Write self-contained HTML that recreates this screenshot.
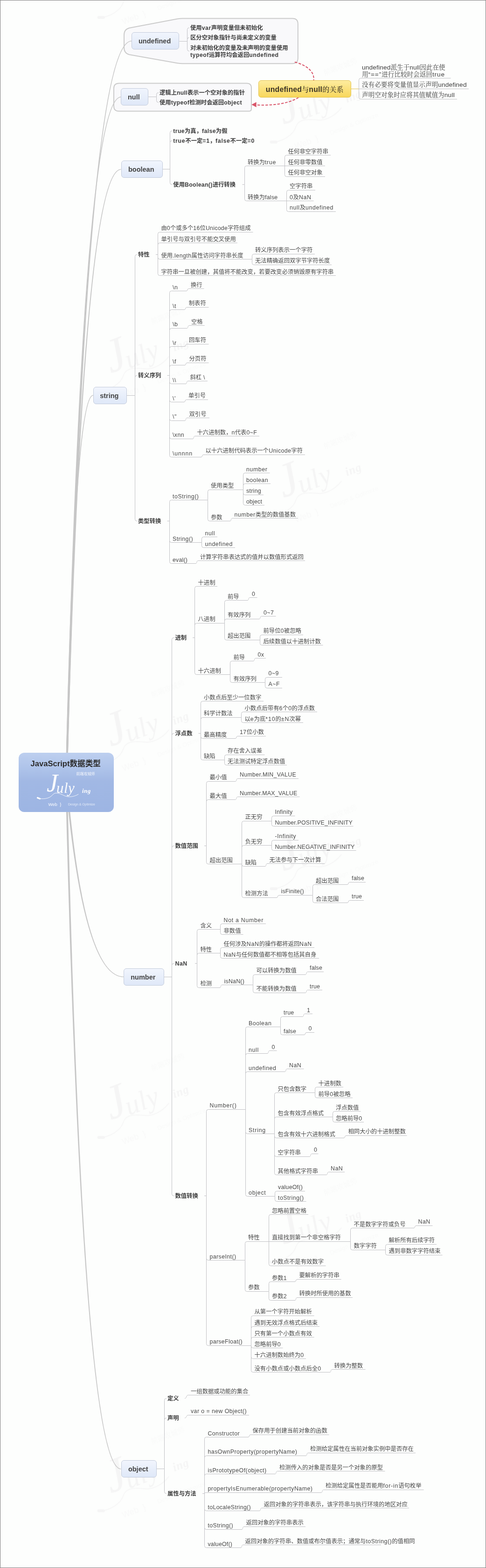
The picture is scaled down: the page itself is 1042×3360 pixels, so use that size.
<!DOCTYPE html><html lang="zh"><head><meta charset="utf-8"><title>JavaScript数据类型</title><style>
html,body{margin:0;padding:0}
body{width:1042px;height:3360px;position:relative;overflow:hidden;background:#fdfefd;font-family:"Liberation Sans","Noto Sans CJK SC",sans-serif;color:#333}
#frame{position:absolute;left:0;top:0;width:1040px;height:3358px;border:1px solid #808080;z-index:9}
svg{position:absolute;left:0;top:0}
#tx{position:absolute;left:0;top:0;width:1042px;height:3360px;will-change:transform}
.t{position:absolute;white-space:pre;line-height:16px;height:16px;font-size:12.33px}
.u{color:#474747}
.b{font-weight:bold;color:#3c3c3c}
.k{font-family:"Liberation Sans","Noto Serif CJK SC",serif;font-size:13.6px;color:#3c3c3c}
.l1{position:absolute;box-sizing:border-box;border:1px solid #c3cbdb;border-radius:6px;background:linear-gradient(#f1f5fd,#dfe8f8);text-align:center;font-weight:bold;font-size:14.5px;color:#444;will-change:transform;padding-right:3px;display:flex;align-items:center;justify-content:center;white-space:nowrap}
.l1 span{position:relative;top:0.6px}
#root{will-change:transform;position:absolute;left:40px;top:1613px;width:203.5px;height:126.5px;border-radius:12px;background:linear-gradient(#bdcfef,#afc4ea 25%,#a1b8e4 48%,#9db5e3);}
#title{position:absolute;left:-1px;width:100%;top:11.8px;text-align:center;font-weight:bold;font-size:16.6px;line-height:24px;color:#2b2b2b;white-space:nowrap}
#yel{position:absolute;left:553.8px;top:172px;width:198.7px;letter-spacing:.2px;height:37px;box-sizing:border-box;border:1px solid #e3c34e;border-radius:6px;background:linear-gradient(#fdec9e,#f8d75c);display:flex;align-items:center;justify-content:center;white-space:nowrap;font-weight:bold;font-size:15.8px;color:#3a3325;will-change:transform}
#yel i{font-style:normal;font-weight:500;font-family:"Liberation Sans","Noto Serif CJK SC",serif;font-size:15px}
.w{position:absolute;color:#fff;white-space:nowrap}
.wm{position:absolute;width:204px;height:127px;transform-origin:83px 45px;transform:rotate(-21deg) scale(1.9);will-change:transform}
.wm .w{color:#f5f5f5}
.wm .q{opacity:.4 !important}
.wm .s{opacity:.5 !important}
.wm svg g{stroke:#f5f5f5}
</style></head><body>
<div class="wm" style="left:539px;top:2539px"><svg width="204" height="127" viewBox="0 0 204 127" style="left:0;top:0"><g fill="none" stroke="#fff" stroke-linecap="round"><path d="M40 97.5 C52 100 66 99 73 90 C78 84 86 86 98 92 C106 96 118 95 128 89" stroke-width="1" opacity=".85"/><path d="M40.5 96.5 L45.5 98.5" stroke-width="3.2"/></g></svg><div class="w q" style="left:123.5px;top:40.5px;font-size:8px;line-height:10px;opacity:.85">前端攻城师</div><div class="w" style="left:60px;top:35px;font:italic 54px/60px 'Liberation Serif',serif;opacity:.95">J</div><div class="w" style="left:81px;top:58px;font:italic 31px/36px 'Liberation Serif',serif;letter-spacing:.5px;opacity:.95">uly</div><div class="w" style="left:136px;top:74px;font:italic bold 13px/16px 'Liberation Serif',serif;letter-spacing:.5px">ing</div><div class="w s" style="left:63.5px;top:104.5px;font-size:9.5px;line-height:12px;opacity:.95">Web &nbsp;}</div><div class="w q" style="left:106px;top:105.5px;font-size:7px;line-height:10px;opacity:.7">Design &amp; Optimize</div></div>
<div class="wm" style="left:539px;top:1739px"><svg width="204" height="127" viewBox="0 0 204 127" style="left:0;top:0"><g fill="none" stroke="#fff" stroke-linecap="round"><path d="M40 97.5 C52 100 66 99 73 90 C78 84 86 86 98 92 C106 96 118 95 128 89" stroke-width="1" opacity=".85"/><path d="M40.5 96.5 L45.5 98.5" stroke-width="3.2"/></g></svg><div class="w q" style="left:123.5px;top:40.5px;font-size:8px;line-height:10px;opacity:.85">前端攻城师</div><div class="w" style="left:60px;top:35px;font:italic 54px/60px 'Liberation Serif',serif;opacity:.95">J</div><div class="w" style="left:81px;top:58px;font:italic 31px/36px 'Liberation Serif',serif;letter-spacing:.5px;opacity:.95">uly</div><div class="w" style="left:136px;top:74px;font:italic bold 13px/16px 'Liberation Serif',serif;letter-spacing:.5px">ing</div><div class="w s" style="left:63.5px;top:104.5px;font-size:9.5px;line-height:12px;opacity:.95">Web &nbsp;}</div><div class="w q" style="left:106px;top:105.5px;font-size:7px;line-height:10px;opacity:.7">Design &amp; Optimize</div></div>
<div class="wm" style="left:539px;top:939px"><svg width="204" height="127" viewBox="0 0 204 127" style="left:0;top:0"><g fill="none" stroke="#fff" stroke-linecap="round"><path d="M40 97.5 C52 100 66 99 73 90 C78 84 86 86 98 92 C106 96 118 95 128 89" stroke-width="1" opacity=".85"/><path d="M40.5 96.5 L45.5 98.5" stroke-width="3.2"/></g></svg><div class="w q" style="left:123.5px;top:40.5px;font-size:8px;line-height:10px;opacity:.85">前端攻城师</div><div class="w" style="left:60px;top:35px;font:italic 54px/60px 'Liberation Serif',serif;opacity:.95">J</div><div class="w" style="left:81px;top:58px;font:italic 31px/36px 'Liberation Serif',serif;letter-spacing:.5px;opacity:.95">uly</div><div class="w" style="left:136px;top:74px;font:italic bold 13px/16px 'Liberation Serif',serif;letter-spacing:.5px">ing</div><div class="w s" style="left:63.5px;top:104.5px;font-size:9.5px;line-height:12px;opacity:.95">Web &nbsp;}</div><div class="w q" style="left:106px;top:105.5px;font-size:7px;line-height:10px;opacity:.7">Design &amp; Optimize</div></div>
<div class="wm" style="left:539px;top:139px"><svg width="204" height="127" viewBox="0 0 204 127" style="left:0;top:0"><g fill="none" stroke="#fff" stroke-linecap="round"><path d="M40 97.5 C52 100 66 99 73 90 C78 84 86 86 98 92 C106 96 118 95 128 89" stroke-width="1" opacity=".85"/><path d="M40.5 96.5 L45.5 98.5" stroke-width="3.2"/></g></svg><div class="w q" style="left:123.5px;top:40.5px;font-size:8px;line-height:10px;opacity:.85">前端攻城师</div><div class="w" style="left:60px;top:35px;font:italic 54px/60px 'Liberation Serif',serif;opacity:.95">J</div><div class="w" style="left:81px;top:58px;font:italic 31px/36px 'Liberation Serif',serif;letter-spacing:.5px;opacity:.95">uly</div><div class="w" style="left:136px;top:74px;font:italic bold 13px/16px 'Liberation Serif',serif;letter-spacing:.5px">ing</div><div class="w s" style="left:63.5px;top:104.5px;font-size:9.5px;line-height:12px;opacity:.95">Web &nbsp;}</div><div class="w q" style="left:106px;top:105.5px;font-size:7px;line-height:10px;opacity:.7">Design &amp; Optimize</div></div>
<div class="wm" style="left:169px;top:3072px"><svg width="204" height="127" viewBox="0 0 204 127" style="left:0;top:0"><g fill="none" stroke="#fff" stroke-linecap="round"><path d="M40 97.5 C52 100 66 99 73 90 C78 84 86 86 98 92 C106 96 118 95 128 89" stroke-width="1" opacity=".85"/><path d="M40.5 96.5 L45.5 98.5" stroke-width="3.2"/></g></svg><div class="w q" style="left:123.5px;top:40.5px;font-size:8px;line-height:10px;opacity:.85">前端攻城师</div><div class="w" style="left:60px;top:35px;font:italic 54px/60px 'Liberation Serif',serif;opacity:.95">J</div><div class="w" style="left:81px;top:58px;font:italic 31px/36px 'Liberation Serif',serif;letter-spacing:.5px;opacity:.95">uly</div><div class="w" style="left:136px;top:74px;font:italic bold 13px/16px 'Liberation Serif',serif;letter-spacing:.5px">ing</div><div class="w s" style="left:63.5px;top:104.5px;font-size:9.5px;line-height:12px;opacity:.95">Web &nbsp;}</div><div class="w q" style="left:106px;top:105.5px;font-size:7px;line-height:10px;opacity:.7">Design &amp; Optimize</div></div>
<div class="wm" style="left:169px;top:2272px"><svg width="204" height="127" viewBox="0 0 204 127" style="left:0;top:0"><g fill="none" stroke="#fff" stroke-linecap="round"><path d="M40 97.5 C52 100 66 99 73 90 C78 84 86 86 98 92 C106 96 118 95 128 89" stroke-width="1" opacity=".85"/><path d="M40.5 96.5 L45.5 98.5" stroke-width="3.2"/></g></svg><div class="w q" style="left:123.5px;top:40.5px;font-size:8px;line-height:10px;opacity:.85">前端攻城师</div><div class="w" style="left:60px;top:35px;font:italic 54px/60px 'Liberation Serif',serif;opacity:.95">J</div><div class="w" style="left:81px;top:58px;font:italic 31px/36px 'Liberation Serif',serif;letter-spacing:.5px;opacity:.95">uly</div><div class="w" style="left:136px;top:74px;font:italic bold 13px/16px 'Liberation Serif',serif;letter-spacing:.5px">ing</div><div class="w s" style="left:63.5px;top:104.5px;font-size:9.5px;line-height:12px;opacity:.95">Web &nbsp;}</div><div class="w q" style="left:106px;top:105.5px;font-size:7px;line-height:10px;opacity:.7">Design &amp; Optimize</div></div>
<div class="wm" style="left:169px;top:1472px"><svg width="204" height="127" viewBox="0 0 204 127" style="left:0;top:0"><g fill="none" stroke="#fff" stroke-linecap="round"><path d="M40 97.5 C52 100 66 99 73 90 C78 84 86 86 98 92 C106 96 118 95 128 89" stroke-width="1" opacity=".85"/><path d="M40.5 96.5 L45.5 98.5" stroke-width="3.2"/></g></svg><div class="w q" style="left:123.5px;top:40.5px;font-size:8px;line-height:10px;opacity:.85">前端攻城师</div><div class="w" style="left:60px;top:35px;font:italic 54px/60px 'Liberation Serif',serif;opacity:.95">J</div><div class="w" style="left:81px;top:58px;font:italic 31px/36px 'Liberation Serif',serif;letter-spacing:.5px;opacity:.95">uly</div><div class="w" style="left:136px;top:74px;font:italic bold 13px/16px 'Liberation Serif',serif;letter-spacing:.5px">ing</div><div class="w s" style="left:63.5px;top:104.5px;font-size:9.5px;line-height:12px;opacity:.95">Web &nbsp;}</div><div class="w q" style="left:106px;top:105.5px;font-size:7px;line-height:10px;opacity:.7">Design &amp; Optimize</div></div>
<div class="wm" style="left:169px;top:672px"><svg width="204" height="127" viewBox="0 0 204 127" style="left:0;top:0"><g fill="none" stroke="#fff" stroke-linecap="round"><path d="M40 97.5 C52 100 66 99 73 90 C78 84 86 86 98 92 C106 96 118 95 128 89" stroke-width="1" opacity=".85"/><path d="M40.5 96.5 L45.5 98.5" stroke-width="3.2"/></g></svg><div class="w q" style="left:123.5px;top:40.5px;font-size:8px;line-height:10px;opacity:.85">前端攻城师</div><div class="w" style="left:60px;top:35px;font:italic 54px/60px 'Liberation Serif',serif;opacity:.95">J</div><div class="w" style="left:81px;top:58px;font:italic 31px/36px 'Liberation Serif',serif;letter-spacing:.5px;opacity:.95">uly</div><div class="w" style="left:136px;top:74px;font:italic bold 13px/16px 'Liberation Serif',serif;letter-spacing:.5px">ing</div><div class="w s" style="left:63.5px;top:104.5px;font-size:9.5px;line-height:12px;opacity:.95">Web &nbsp;}</div><div class="w q" style="left:106px;top:105.5px;font-size:7px;line-height:10px;opacity:.7">Design &amp; Optimize</div></div>
<div class="wm" style="left:169px;top:-128px"><svg width="204" height="127" viewBox="0 0 204 127" style="left:0;top:0"><g fill="none" stroke="#fff" stroke-linecap="round"><path d="M40 97.5 C52 100 66 99 73 90 C78 84 86 86 98 92 C106 96 118 95 128 89" stroke-width="1" opacity=".85"/><path d="M40.5 96.5 L45.5 98.5" stroke-width="3.2"/></g></svg><div class="w q" style="left:123.5px;top:40.5px;font-size:8px;line-height:10px;opacity:.85">前端攻城师</div><div class="w" style="left:60px;top:35px;font:italic 54px/60px 'Liberation Serif',serif;opacity:.95">J</div><div class="w" style="left:81px;top:58px;font:italic 31px/36px 'Liberation Serif',serif;letter-spacing:.5px;opacity:.95">uly</div><div class="w" style="left:136px;top:74px;font:italic bold 13px/16px 'Liberation Serif',serif;letter-spacing:.5px">ing</div><div class="w s" style="left:63.5px;top:104.5px;font-size:9.5px;line-height:12px;opacity:.95">Web &nbsp;}</div><div class="w q" style="left:106px;top:105.5px;font-size:7px;line-height:10px;opacity:.7">Design &amp; Optimize</div></div>
<svg width="1042" height="3360" viewBox="0 0 1042 3360">
<g fill="#f9f9fb" stroke="#cbcbcb" stroke-width="2"><path d="M266 75 Q266 63 277 60 L380 40.6 Q386 39.6 392 39.6 L626.8 39.6 Q638.8 39.6 638.8 51.6 L638.8 124.2 Q638.8 136.2 626.8 136.2 L392 136.2 Q386 136.2 380 135.2 L277 117 Q266 114 266 102 Z"/><path d="M244 189.5 Q244 178.5 255 178.5 L529 178.5 Q539 178.5 539 188.5 L539 233 Q539 238.2 534 238.2 L255 238.2 Q244 238.2 244 227.2 Z"/></g>
<g fill="#c6c6c6" stroke="none">
<path d="M144.3 1676.1 L145.0 1649.7 L145.7 1623.6 L146.4 1597.6 L147.1 1572.0 L147.8 1546.5 L148.5 1521.2 L149.2 1496.2 L150.0 1471.4 L150.7 1446.8 L151.5 1422.4 L152.2 1398.3 L153.0 1374.3 L153.8 1350.6 L154.5 1327.1 L155.3 1303.9 L156.1 1280.8 L156.9 1258.0 L157.8 1235.4 L158.6 1213.0 L159.4 1190.8 L160.2 1168.9 L161.1 1147.2 L161.9 1125.7 L162.8 1104.4 L163.7 1083.3 L164.6 1062.5 L165.4 1041.9 L166.3 1021.5 L167.2 1001.3 L168.2 981.3 L169.1 961.6 L170.0 942.1 L170.9 922.8 L171.9 903.7 L172.8 884.8 L173.8 866.2 L174.8 847.8 L175.7 829.6 L176.7 811.6 L177.7 793.8 L178.7 776.3 L179.7 759.0 L180.7 741.9 L181.7 725.0 L182.8 708.4 L183.8 692.0 L184.8 675.7 L185.9 659.8 L187.0 644.0 L188.0 628.4 L189.1 613.1 L190.2 598.0 L191.3 583.1 L192.4 568.5 L193.5 554.0 L194.6 539.8 L195.7 525.8 L196.9 512.0 L198.0 498.4 L199.2 485.1 L200.3 472.0 L201.5 459.1 L202.7 446.4 L203.8 433.9 L205.0 421.7 L206.2 409.7 L207.4 397.9 L208.6 386.3 L209.9 374.9 L211.1 363.8 L212.3 352.9 L213.6 342.2 L214.8 331.7 L216.1 321.5 L217.3 311.4 L218.6 301.6 L219.9 292.0 L221.2 282.6 L222.5 273.5 L223.8 264.6 L225.1 255.9 L226.4 247.4 L227.8 239.1 L229.1 231.0 L230.5 223.2 L231.8 215.6 L233.2 208.2 L234.6 201.1 L235.9 194.1 L237.3 187.4 L238.7 180.9 L240.1 174.6 L241.5 168.6 L242.9 162.7 L244.4 157.1 L245.8 151.7 L247.2 146.5 L248.7 141.6 L250.1 136.8 L251.6 132.3 L253.1 128.0 L254.6 124.0 L256.0 120.1 L257.5 116.5 L259.0 113.1 L260.5 109.9 L262.1 107.0 L263.6 104.2 L265.1 101.7 L266.6 99.4 L268.2 97.3 L269.7 95.5 L271.2 93.9 L272.8 92.5 L274.3 91.3 L275.9 90.3 L277.4 89.6 L278.9 89.1 L280.5 88.8 L282.0 88.7 L282.0 87.3 L280.3 87.5 L278.6 87.8 L276.9 88.4 L275.2 89.2 L273.6 90.2 L271.9 91.5 L270.3 92.9 L268.7 94.6 L267.1 96.5 L265.6 98.6 L264.0 101.0 L262.4 103.5 L260.9 106.3 L259.3 109.3 L257.8 112.5 L256.3 116.0 L254.8 119.6 L253.3 123.5 L251.8 127.6 L250.3 131.9 L248.8 136.4 L247.4 141.2 L245.9 146.1 L244.4 151.3 L243.0 156.7 L241.6 162.4 L240.1 168.2 L238.7 174.3 L237.3 180.6 L235.9 187.1 L234.5 193.8 L233.1 200.8 L231.7 208.0 L230.3 215.3 L229.0 223.0 L227.6 230.8 L226.2 238.8 L224.9 247.1 L223.6 255.6 L222.2 264.3 L220.9 273.3 L219.6 282.4 L218.3 291.8 L217.0 301.4 L215.7 311.2 L214.4 321.2 L213.1 331.5 L211.8 342.0 L210.6 352.7 L209.3 363.6 L208.1 374.7 L206.8 386.1 L205.6 397.7 L204.4 409.5 L203.2 421.5 L202.0 433.7 L200.8 446.2 L199.6 458.9 L198.4 471.8 L197.2 484.9 L196.0 498.3 L194.9 511.8 L193.7 525.6 L192.6 539.6 L191.4 553.8 L190.3 568.3 L189.2 583.0 L188.0 597.8 L186.9 613.0 L185.8 628.3 L184.7 643.8 L183.6 659.6 L182.6 675.6 L181.5 691.8 L180.4 708.2 L179.4 724.9 L178.3 741.8 L177.3 758.9 L176.2 776.2 L175.2 793.7 L174.2 811.5 L173.2 829.4 L172.2 847.6 L171.2 866.1 L170.2 884.7 L169.2 903.5 L168.2 922.6 L167.3 941.9 L166.3 961.4 L165.3 981.2 L164.4 1001.1 L163.5 1021.3 L162.5 1041.7 L161.6 1062.4 L160.7 1083.2 L159.8 1104.3 L158.9 1125.5 L158.0 1147.0 L157.1 1168.8 L156.2 1190.7 L155.4 1212.9 L154.5 1235.3 L153.7 1257.9 L152.8 1280.7 L152.0 1303.8 L151.1 1327.0 L150.3 1350.5 L149.5 1374.2 L148.7 1398.2 L147.9 1422.3 L147.1 1446.7 L146.3 1471.3 L145.5 1496.1 L144.8 1521.1 L144.0 1546.4 L143.2 1571.8 L142.5 1597.5 L141.8 1623.5 L141.0 1649.6 L140.3 1675.9Z"/>
<path d="M144.3 1676.0 L144.9 1651.7 L145.4 1627.5 L146.0 1603.6 L146.6 1579.8 L147.2 1556.3 L147.8 1532.9 L148.4 1509.8 L149.0 1486.8 L149.6 1464.1 L150.3 1441.6 L150.9 1419.2 L151.5 1397.1 L152.2 1375.2 L152.8 1353.5 L153.5 1332.0 L154.2 1310.6 L154.8 1289.5 L155.5 1268.6 L156.2 1247.9 L156.9 1227.5 L157.6 1207.2 L158.3 1187.1 L159.0 1167.2 L159.7 1147.5 L160.5 1128.1 L161.2 1108.8 L161.9 1089.7 L162.7 1070.9 L163.4 1052.2 L164.2 1033.7 L165.0 1015.5 L165.7 997.4 L166.5 979.6 L167.3 962.0 L168.1 944.5 L168.9 927.3 L169.7 910.3 L170.5 893.5 L171.3 876.8 L172.2 860.4 L173.0 844.2 L173.8 828.2 L174.7 812.4 L175.5 796.8 L176.4 781.4 L177.3 766.2 L178.2 751.2 L179.0 736.5 L179.9 721.9 L180.8 707.5 L181.7 693.3 L182.6 679.4 L183.5 665.6 L184.5 652.0 L185.4 638.7 L186.3 625.5 L187.3 612.6 L188.2 599.8 L189.2 587.3 L190.1 575.0 L191.1 562.8 L192.1 550.9 L193.0 539.2 L194.0 527.7 L195.0 516.3 L196.0 505.2 L197.0 494.3 L198.1 483.6 L199.1 473.1 L200.1 462.8 L201.1 452.7 L202.2 442.8 L203.2 433.2 L204.3 423.7 L205.3 414.4 L206.4 405.3 L207.5 396.5 L208.6 387.8 L209.7 379.3 L210.8 371.1 L211.9 363.0 L213.0 355.2 L214.1 347.5 L215.2 340.1 L216.3 332.9 L217.5 325.8 L218.6 319.0 L219.7 312.4 L220.9 306.0 L222.1 299.7 L223.2 293.7 L224.4 287.9 L225.6 282.3 L226.8 276.9 L228.0 271.7 L229.2 266.7 L230.4 262.0 L231.6 257.4 L232.8 253.0 L234.0 248.8 L235.3 244.9 L236.5 241.1 L237.8 237.5 L239.0 234.2 L240.3 231.0 L241.5 228.1 L242.8 225.4 L244.1 222.8 L245.3 220.5 L246.6 218.4 L247.9 216.5 L249.2 214.8 L250.5 213.3 L251.8 212.0 L253.0 210.9 L254.3 210.0 L255.6 209.4 L256.9 208.9 L258.1 208.6 L259.4 208.5 L259.4 207.2 L257.9 207.3 L256.5 207.6 L255.1 208.2 L253.6 208.9 L252.3 209.9 L250.9 211.0 L249.5 212.4 L248.2 214.0 L246.8 215.7 L245.5 217.7 L244.2 219.9 L242.9 222.2 L241.6 224.8 L240.3 227.6 L239.0 230.5 L237.7 233.7 L236.5 237.1 L235.2 240.7 L234.0 244.4 L232.7 248.4 L231.5 252.6 L230.2 257.0 L229.0 261.6 L227.8 266.4 L226.6 271.4 L225.4 276.6 L224.2 282.0 L223.0 287.6 L221.8 293.5 L220.6 299.5 L219.4 305.7 L218.3 312.1 L217.1 318.8 L216.0 325.6 L214.8 332.6 L213.7 339.9 L212.5 347.3 L211.4 355.0 L210.3 362.8 L209.2 370.9 L208.1 379.1 L207.0 387.6 L205.9 396.3 L204.8 405.1 L203.7 414.2 L202.6 423.5 L201.5 433.0 L200.5 442.7 L199.4 452.6 L198.3 462.6 L197.3 472.9 L196.3 483.4 L195.2 494.2 L194.2 505.1 L193.2 516.2 L192.2 527.5 L191.1 539.0 L190.1 550.7 L189.1 562.7 L188.2 574.8 L187.2 587.1 L186.2 599.7 L185.2 612.4 L184.3 625.4 L183.3 638.5 L182.3 651.9 L181.4 665.5 L180.5 679.2 L179.5 693.2 L178.6 707.4 L177.7 721.7 L176.8 736.3 L175.9 751.1 L175.0 766.1 L174.1 781.3 L173.2 796.7 L172.3 812.3 L171.4 828.1 L170.5 844.1 L169.7 860.3 L168.8 876.7 L168.0 893.3 L167.1 910.2 L166.3 927.2 L165.5 944.4 L164.6 961.8 L163.8 979.5 L163.0 997.3 L162.2 1015.4 L161.4 1033.6 L160.6 1052.1 L159.8 1070.7 L159.0 1089.6 L158.2 1108.7 L157.5 1127.9 L156.7 1147.4 L156.0 1167.1 L155.2 1187.0 L154.5 1207.1 L153.7 1227.3 L153.0 1247.8 L152.3 1268.5 L151.5 1289.4 L150.8 1310.5 L150.1 1331.8 L149.4 1353.4 L148.7 1375.1 L148.1 1397.0 L147.4 1419.1 L146.7 1441.5 L146.0 1464.0 L145.4 1486.7 L144.7 1509.7 L144.1 1532.8 L143.4 1556.2 L142.8 1579.7 L142.2 1603.5 L141.5 1627.4 L140.9 1651.6 L140.3 1676.0Z"/>
<path d="M144.3 1676.1 L144.9 1654.3 L145.4 1632.7 L146.0 1611.2 L146.6 1590.0 L147.2 1568.9 L147.8 1548.0 L148.4 1527.3 L149.0 1506.8 L149.6 1486.5 L150.3 1466.3 L150.9 1446.4 L151.5 1426.6 L152.2 1407.0 L152.8 1387.6 L153.5 1368.3 L154.2 1349.3 L154.8 1330.4 L155.5 1311.7 L156.2 1293.2 L156.9 1274.9 L157.6 1256.7 L158.3 1238.7 L159.0 1221.0 L159.8 1203.4 L160.5 1186.0 L161.2 1168.7 L162.0 1151.7 L162.7 1134.8 L163.5 1118.1 L164.2 1101.6 L165.0 1085.3 L165.8 1069.1 L166.5 1053.2 L167.3 1037.4 L168.1 1021.8 L168.9 1006.4 L169.7 991.2 L170.5 976.1 L171.4 961.3 L172.2 946.6 L173.0 932.1 L173.9 917.8 L174.7 903.7 L175.6 889.7 L176.4 875.9 L177.3 862.3 L178.2 848.9 L179.1 835.7 L180.0 822.7 L180.8 809.8 L181.7 797.2 L182.7 784.7 L183.6 772.4 L184.5 760.2 L185.4 748.3 L186.4 736.5 L187.3 724.9 L188.2 713.5 L189.2 702.3 L190.2 691.3 L191.1 680.5 L192.1 669.8 L193.1 659.3 L194.1 649.0 L195.1 638.9 L196.1 628.9 L197.1 619.2 L198.1 609.6 L199.1 600.2 L200.2 591.0 L201.2 582.0 L202.2 573.1 L203.3 564.5 L204.3 556.0 L205.4 547.7 L206.5 539.6 L207.5 531.7 L208.6 523.9 L209.7 516.3 L210.8 509.0 L211.9 501.8 L213.0 494.7 L214.1 487.9 L215.3 481.3 L216.4 474.8 L217.5 468.5 L218.7 462.4 L219.8 456.5 L221.0 450.7 L222.1 445.2 L223.3 439.8 L224.5 434.6 L225.7 429.6 L226.8 424.8 L228.0 420.1 L229.2 415.7 L230.4 411.4 L231.7 407.3 L232.9 403.4 L234.1 399.6 L235.3 396.1 L236.6 392.7 L237.8 389.6 L239.1 386.6 L240.3 383.7 L241.6 381.1 L242.9 378.7 L244.1 376.4 L245.4 374.3 L246.7 372.5 L248.0 370.7 L249.3 369.2 L250.5 367.9 L251.8 366.7 L253.1 365.8 L254.4 365.0 L255.7 364.4 L256.9 363.9 L258.2 363.7 L259.5 363.6 L259.5 362.3 L258.0 362.4 L256.6 362.7 L255.2 363.2 L253.8 363.8 L252.4 364.7 L251.0 365.7 L249.6 366.9 L248.3 368.3 L246.9 369.9 L245.6 371.7 L244.3 373.6 L243.0 375.7 L241.7 378.0 L240.4 380.5 L239.1 383.2 L237.8 386.0 L236.6 389.0 L235.3 392.3 L234.1 395.6 L232.8 399.2 L231.6 403.0 L230.3 406.9 L229.1 411.0 L227.9 415.3 L226.7 419.8 L225.5 424.4 L224.3 429.3 L223.1 434.3 L221.9 439.5 L220.7 444.9 L219.5 450.4 L218.3 456.2 L217.2 462.1 L216.0 468.2 L214.9 474.5 L213.7 481.0 L212.6 487.7 L211.5 494.5 L210.3 501.5 L209.2 508.7 L208.1 516.1 L207.0 523.7 L205.9 531.4 L204.8 539.4 L203.7 547.5 L202.6 555.8 L201.6 564.3 L200.5 572.9 L199.4 581.8 L198.4 590.8 L197.3 600.0 L196.3 609.4 L195.3 619.0 L194.2 628.7 L193.2 638.7 L192.2 648.8 L191.2 659.1 L190.2 669.6 L189.2 680.3 L188.2 691.1 L187.2 702.2 L186.2 713.4 L185.3 724.8 L184.3 736.4 L183.3 748.1 L182.4 760.1 L181.4 772.2 L180.5 784.5 L179.6 797.0 L178.6 809.7 L177.7 822.5 L176.8 835.6 L175.9 848.8 L175.0 862.2 L174.1 875.8 L173.2 889.6 L172.3 903.5 L171.4 917.6 L170.6 932.0 L169.7 946.5 L168.8 961.1 L168.0 976.0 L167.1 991.0 L166.3 1006.3 L165.5 1021.7 L164.6 1037.3 L163.8 1053.1 L163.0 1069.0 L162.2 1085.2 L161.4 1101.5 L160.6 1118.0 L159.8 1134.7 L159.0 1151.5 L158.3 1168.6 L157.5 1185.8 L156.7 1203.2 L156.0 1220.8 L155.2 1238.6 L154.5 1256.6 L153.7 1274.7 L153.0 1293.1 L152.3 1311.6 L151.6 1330.3 L150.8 1349.1 L150.1 1368.2 L149.4 1387.4 L148.7 1406.9 L148.1 1426.5 L147.4 1446.2 L146.7 1466.2 L146.0 1486.4 L145.4 1506.7 L144.7 1527.2 L144.1 1547.9 L143.4 1568.8 L142.8 1589.9 L142.2 1611.1 L141.5 1632.5 L140.9 1654.2 L140.3 1675.9Z"/>
<path d="M144.3 1676.0 L144.6 1662.3 L144.8 1648.6 L145.1 1635.1 L145.4 1621.7 L145.7 1608.4 L145.9 1595.2 L146.2 1582.2 L146.5 1569.2 L146.8 1556.4 L147.1 1543.7 L147.4 1531.1 L147.7 1518.6 L148.0 1506.2 L148.3 1493.9 L148.6 1481.8 L149.0 1469.8 L149.3 1457.9 L149.6 1446.1 L149.9 1434.4 L150.3 1422.8 L150.6 1411.4 L150.9 1400.0 L151.3 1388.8 L151.6 1377.7 L152.0 1366.7 L152.3 1355.8 L152.7 1345.0 L153.0 1334.4 L153.4 1323.9 L153.8 1313.5 L154.1 1303.1 L154.5 1293.0 L154.9 1282.9 L155.2 1272.9 L155.6 1263.1 L156.0 1253.4 L156.4 1243.8 L156.8 1234.3 L157.2 1224.9 L157.6 1215.6 L158.0 1206.5 L158.4 1197.4 L158.8 1188.5 L159.2 1179.7 L159.6 1171.0 L160.0 1162.4 L160.5 1154.0 L160.9 1145.6 L161.3 1137.4 L161.7 1129.3 L162.2 1121.3 L162.6 1113.4 L163.1 1105.6 L163.5 1098.0 L164.0 1090.4 L164.4 1083.0 L164.9 1075.7 L165.3 1068.5 L165.8 1061.4 L166.2 1054.5 L166.7 1047.6 L167.2 1040.9 L167.7 1034.3 L168.1 1027.8 L168.6 1021.4 L169.1 1015.1 L169.6 1008.9 L170.1 1002.9 L170.6 997.0 L171.1 991.2 L171.6 985.5 L172.1 979.9 L172.6 974.4 L173.1 969.1 L173.6 963.8 L174.1 958.7 L174.7 953.7 L175.2 948.8 L175.7 944.0 L176.3 939.4 L176.8 934.8 L177.3 930.4 L177.9 926.1 L178.4 921.9 L179.0 917.8 L179.5 913.8 L180.1 910.0 L180.6 906.3 L181.2 902.6 L181.8 899.1 L182.3 895.7 L182.9 892.5 L183.5 889.3 L184.1 886.2 L184.6 883.3 L185.2 880.5 L185.8 877.8 L186.4 875.2 L187.0 872.7 L187.6 870.4 L188.2 868.2 L188.8 866.0 L189.4 864.0 L190.0 862.1 L190.6 860.4 L191.3 858.7 L191.9 857.2 L192.5 855.8 L193.1 854.5 L193.7 853.3 L194.4 852.2 L195.0 851.3 L195.6 850.4 L196.2 849.7 L196.8 849.1 L197.4 848.7 L198.0 848.3 L198.6 848.0 L199.1 847.9 L199.7 847.9 L199.7 846.6 L198.9 846.6 L198.2 846.8 L197.4 847.1 L196.7 847.6 L196.0 848.1 L195.3 848.8 L194.6 849.6 L193.9 850.5 L193.2 851.5 L192.6 852.6 L191.9 853.9 L191.3 855.2 L190.6 856.7 L190.0 858.2 L189.4 859.9 L188.8 861.7 L188.1 863.6 L187.5 865.7 L186.9 867.8 L186.3 870.0 L185.7 872.4 L185.1 874.9 L184.5 877.5 L183.9 880.2 L183.3 883.0 L182.7 886.0 L182.1 889.0 L181.5 892.2 L180.9 895.5 L180.3 898.9 L179.7 902.4 L179.2 906.0 L178.6 909.8 L178.0 913.6 L177.5 917.6 L176.9 921.7 L176.3 925.9 L175.8 930.2 L175.2 934.6 L174.7 939.2 L174.1 943.9 L173.6 948.6 L173.0 953.5 L172.5 958.5 L172.0 963.7 L171.4 968.9 L170.9 974.3 L170.4 979.7 L169.8 985.3 L169.3 991.0 L168.8 996.8 L168.3 1002.8 L167.8 1008.8 L167.3 1015.0 L166.8 1021.2 L166.3 1027.6 L165.8 1034.1 L165.3 1040.7 L164.8 1047.5 L164.3 1054.3 L163.8 1061.3 L163.3 1068.4 L162.8 1075.6 L162.3 1082.9 L161.9 1090.3 L161.4 1097.8 L160.9 1105.5 L160.5 1113.3 L160.0 1121.2 L159.5 1129.2 L159.1 1137.3 L158.6 1145.5 L158.2 1153.9 L157.7 1162.3 L157.3 1170.9 L156.8 1179.6 L156.4 1188.4 L155.9 1197.3 L155.5 1206.3 L155.1 1215.5 L154.7 1224.8 L154.2 1234.1 L153.8 1243.6 L153.4 1253.3 L153.0 1263.0 L152.6 1272.8 L152.1 1282.8 L151.7 1292.9 L151.3 1303.0 L150.9 1313.3 L150.5 1323.8 L150.1 1334.3 L149.8 1344.9 L149.4 1355.7 L149.0 1366.6 L148.6 1377.6 L148.2 1388.7 L147.8 1399.9 L147.5 1411.3 L147.1 1422.7 L146.7 1434.3 L146.4 1446.0 L146.0 1457.8 L145.6 1469.7 L145.3 1481.7 L144.9 1493.8 L144.6 1506.1 L144.2 1518.5 L143.9 1531.0 L143.5 1543.6 L143.2 1556.3 L142.9 1569.1 L142.5 1582.1 L142.2 1595.1 L141.9 1608.3 L141.6 1621.6 L141.2 1635.0 L140.9 1648.6 L140.6 1662.2 L140.3 1676.0Z"/>
<path d="M140.3 1676.2 L140.9 1683.1 L141.6 1690.0 L142.3 1696.8 L142.9 1703.5 L143.6 1710.2 L144.3 1716.9 L144.9 1723.4 L145.6 1730.0 L146.3 1736.4 L147.0 1742.8 L147.7 1749.2 L148.4 1755.5 L149.2 1761.7 L149.9 1767.9 L150.6 1774.0 L151.4 1780.0 L152.1 1786.0 L152.9 1792.0 L153.6 1797.9 L154.4 1803.7 L155.2 1809.4 L155.9 1815.2 L156.7 1820.8 L157.5 1826.4 L158.3 1831.9 L159.1 1837.4 L160.0 1842.8 L160.8 1848.2 L161.6 1853.5 L162.4 1858.7 L163.3 1863.9 L164.1 1869.1 L165.0 1874.1 L165.8 1879.1 L166.7 1884.1 L167.6 1889.0 L168.5 1893.8 L169.3 1898.6 L170.2 1903.3 L171.1 1908.0 L172.0 1912.6 L173.0 1917.2 L173.9 1921.7 L174.8 1926.1 L175.7 1930.5 L176.7 1934.8 L177.6 1939.1 L178.6 1943.3 L179.5 1947.4 L180.5 1951.5 L181.5 1955.5 L182.5 1959.5 L183.5 1963.4 L184.4 1967.3 L185.4 1971.1 L186.5 1974.8 L187.5 1978.5 L188.5 1982.1 L189.5 1985.7 L190.6 1989.2 L191.6 1992.6 L192.6 1996.0 L193.7 1999.4 L194.8 2002.6 L195.8 2005.9 L196.9 2009.0 L198.0 2012.1 L199.1 2015.2 L200.2 2018.2 L201.3 2021.1 L202.4 2024.0 L203.5 2026.8 L204.6 2029.5 L205.7 2032.2 L206.9 2034.9 L208.0 2037.4 L209.2 2040.0 L210.3 2042.4 L211.5 2044.9 L212.7 2047.2 L213.8 2049.5 L215.0 2051.7 L216.2 2053.9 L217.4 2056.0 L218.6 2058.1 L219.8 2060.1 L221.0 2062.1 L222.3 2063.9 L223.5 2065.8 L224.7 2067.5 L226.0 2069.3 L227.2 2070.9 L228.5 2072.5 L229.8 2074.1 L231.0 2075.6 L232.3 2077.0 L233.6 2078.4 L234.9 2079.7 L236.2 2080.9 L237.5 2082.1 L238.8 2083.3 L240.2 2084.3 L241.5 2085.4 L242.8 2086.3 L244.2 2087.2 L245.5 2088.1 L246.9 2088.9 L248.3 2089.6 L249.6 2090.3 L251.0 2090.9 L252.4 2091.5 L253.8 2092.0 L255.2 2092.4 L256.7 2092.8 L258.1 2093.1 L259.5 2093.4 L260.9 2093.6 L262.4 2093.7 L263.8 2093.8 L265.3 2093.8 L265.3 2092.5 L263.9 2092.5 L262.5 2092.4 L261.1 2092.3 L259.7 2092.1 L258.3 2091.8 L257.0 2091.5 L255.6 2091.2 L254.2 2090.7 L252.9 2090.2 L251.5 2089.7 L250.2 2089.1 L248.9 2088.4 L247.5 2087.7 L246.2 2086.9 L244.9 2086.1 L243.6 2085.2 L242.3 2084.3 L241.0 2083.3 L239.7 2082.2 L238.4 2081.1 L237.1 2079.9 L235.9 2078.7 L234.6 2077.4 L233.3 2076.0 L232.1 2074.6 L230.8 2073.2 L229.6 2071.6 L228.4 2070.0 L227.1 2068.4 L225.9 2066.7 L224.7 2064.9 L223.5 2063.1 L222.3 2061.2 L221.1 2059.3 L219.9 2057.3 L218.7 2055.3 L217.6 2053.2 L216.4 2051.0 L215.2 2048.8 L214.1 2046.5 L212.9 2044.1 L211.8 2041.7 L210.7 2039.3 L209.5 2036.8 L208.4 2034.2 L207.3 2031.6 L206.2 2028.9 L205.1 2026.1 L204.0 2023.3 L202.9 2020.5 L201.8 2017.5 L200.8 2014.6 L199.7 2011.5 L198.6 2008.4 L197.6 2005.3 L196.6 2002.1 L195.5 1998.8 L194.5 1995.5 L193.5 1992.1 L192.4 1988.6 L191.4 1985.1 L190.4 1981.6 L189.4 1977.9 L188.5 1974.3 L187.5 1970.5 L186.5 1966.7 L185.5 1962.9 L184.6 1959.0 L183.6 1955.0 L182.7 1951.0 L181.7 1946.9 L180.8 1942.8 L179.9 1938.6 L179.0 1934.3 L178.0 1930.0 L177.1 1925.6 L176.2 1921.2 L175.4 1916.7 L174.5 1912.1 L173.6 1907.5 L172.7 1902.9 L171.9 1898.2 L171.0 1893.4 L170.2 1888.5 L169.3 1883.6 L168.5 1878.7 L167.7 1873.7 L166.8 1868.6 L166.0 1863.5 L165.2 1858.3 L164.4 1853.1 L163.6 1847.8 L162.8 1842.4 L162.1 1837.0 L161.3 1831.5 L160.5 1826.0 L159.8 1820.4 L159.0 1814.7 L158.3 1809.0 L157.5 1803.3 L156.8 1797.5 L156.1 1791.6 L155.4 1785.6 L154.7 1779.6 L154.0 1773.6 L153.3 1767.5 L152.6 1761.3 L151.9 1755.1 L151.2 1748.8 L150.6 1742.4 L149.9 1736.0 L149.3 1729.6 L148.6 1723.1 L148.0 1716.5 L147.3 1709.9 L146.7 1703.2 L146.1 1696.4 L145.5 1689.6 L144.9 1682.7 L144.3 1675.8Z"/>
<path d="M140.3 1676.0 L140.9 1700.5 L141.5 1724.7 L142.2 1748.7 L142.8 1772.5 L143.4 1796.1 L144.1 1819.6 L144.7 1842.8 L145.4 1865.7 L146.0 1888.5 L146.7 1911.1 L147.4 1933.5 L148.1 1955.7 L148.7 1977.7 L149.4 1999.4 L150.1 2021.0 L150.8 2042.4 L151.6 2063.5 L152.3 2084.5 L153.0 2105.2 L153.7 2125.8 L154.5 2146.1 L155.2 2166.2 L156.0 2186.2 L156.7 2205.9 L157.5 2225.4 L158.3 2244.7 L159.0 2263.9 L159.8 2282.8 L160.6 2301.5 L161.4 2320.0 L162.2 2338.3 L163.0 2356.4 L163.8 2374.2 L164.6 2391.9 L165.5 2409.4 L166.3 2426.7 L167.1 2443.7 L168.0 2460.6 L168.8 2477.3 L169.7 2493.7 L170.6 2510.0 L171.4 2526.0 L172.3 2541.9 L173.2 2557.5 L174.1 2572.9 L175.0 2588.2 L175.9 2603.2 L176.8 2618.0 L177.7 2632.6 L178.6 2647.0 L179.6 2661.3 L180.5 2675.3 L181.4 2689.1 L182.4 2702.7 L183.3 2716.0 L184.3 2729.2 L185.3 2742.2 L186.2 2755.0 L187.2 2767.6 L188.2 2779.9 L189.2 2792.1 L190.2 2804.1 L191.2 2815.8 L192.2 2827.4 L193.2 2838.7 L194.2 2849.8 L195.3 2860.8 L196.3 2871.5 L197.3 2882.0 L198.4 2892.4 L199.4 2902.5 L200.5 2912.4 L201.6 2922.1 L202.6 2931.6 L203.7 2940.9 L204.8 2950.0 L205.9 2958.9 L207.0 2967.6 L208.1 2976.1 L209.2 2984.4 L210.3 2992.5 L211.5 3000.3 L212.6 3008.0 L213.7 3015.5 L214.9 3022.7 L216.0 3029.8 L217.2 3036.6 L218.3 3043.3 L219.5 3049.7 L220.7 3056.0 L221.9 3062.0 L223.1 3067.8 L224.3 3073.4 L225.5 3078.9 L226.7 3084.1 L227.9 3089.1 L229.1 3093.9 L230.3 3098.5 L231.6 3102.9 L232.8 3107.1 L234.0 3111.1 L235.3 3114.9 L236.6 3118.5 L237.8 3121.9 L239.1 3125.1 L240.4 3128.0 L241.7 3130.8 L243.0 3133.4 L244.3 3135.8 L245.6 3137.9 L246.9 3139.9 L248.3 3141.7 L249.6 3143.2 L251.0 3144.6 L252.3 3145.8 L253.7 3146.7 L255.2 3147.5 L256.6 3148.0 L258.0 3148.3 L259.5 3148.5 L259.5 3147.2 L258.2 3147.1 L257.0 3146.8 L255.7 3146.3 L254.4 3145.6 L253.1 3144.7 L251.9 3143.6 L250.6 3142.3 L249.3 3140.8 L248.0 3139.1 L246.7 3137.2 L245.4 3135.1 L244.1 3132.8 L242.9 3130.2 L241.6 3127.5 L240.3 3124.5 L239.1 3121.4 L237.8 3118.0 L236.6 3114.5 L235.3 3110.7 L234.1 3106.7 L232.9 3102.5 L231.7 3098.1 L230.5 3093.6 L229.2 3088.8 L228.0 3083.8 L226.8 3078.6 L225.7 3073.1 L224.5 3067.5 L223.3 3061.7 L222.1 3055.7 L221.0 3049.4 L219.8 3043.0 L218.7 3036.4 L217.5 3029.5 L216.4 3022.5 L215.3 3015.2 L214.1 3007.8 L213.0 3000.1 L211.9 2992.2 L210.8 2984.2 L209.7 2975.9 L208.6 2967.4 L207.5 2958.7 L206.5 2949.8 L205.4 2940.7 L204.3 2931.4 L203.3 2921.9 L202.2 2912.2 L201.2 2902.3 L200.2 2892.2 L199.1 2881.9 L198.1 2871.3 L197.1 2860.6 L196.1 2849.7 L195.1 2838.5 L194.1 2827.2 L193.1 2815.6 L192.1 2803.9 L191.1 2791.9 L190.2 2779.8 L189.2 2767.4 L188.2 2754.8 L187.3 2742.1 L186.4 2729.1 L185.4 2715.9 L184.5 2702.5 L183.6 2688.9 L182.7 2675.1 L181.7 2661.1 L180.8 2646.9 L180.0 2632.5 L179.1 2617.9 L178.2 2603.1 L177.3 2588.0 L176.4 2572.8 L175.6 2557.4 L174.7 2541.7 L173.9 2525.9 L173.0 2509.9 L172.2 2493.6 L171.4 2477.1 L170.5 2460.5 L169.7 2443.6 L168.9 2426.6 L168.1 2409.3 L167.3 2391.8 L166.5 2374.1 L165.8 2356.2 L165.0 2338.1 L164.2 2319.9 L163.5 2301.4 L162.7 2282.6 L162.0 2263.7 L161.2 2244.6 L160.5 2225.3 L159.8 2205.8 L159.0 2186.1 L158.3 2166.1 L157.6 2146.0 L156.9 2125.7 L156.2 2105.1 L155.5 2084.4 L154.8 2063.4 L154.2 2042.3 L153.5 2020.9 L152.8 1999.3 L152.2 1977.6 L151.5 1955.6 L150.9 1933.4 L150.3 1911.0 L149.6 1888.4 L149.0 1865.6 L148.4 1842.7 L147.8 1819.5 L147.2 1796.0 L146.6 1772.4 L146.0 1748.6 L145.4 1724.6 L144.9 1700.4 L144.3 1676.0Z"/>
</g>
<g fill="none" stroke="#c1c1c5" stroke-width="1">
<path d="M384.3 88.5 L401 88.5 M401.5 88.5 L401.5 63.5 Q401.5 59.5 405.5 59.5 L406 59.5 M401.5 88.5 L401.5 84.5 Q401.5 80.5 405.5 80.5 L406 80.5 M401.5 88.5 L401.5 105.5 Q401.5 109.5 405.5 109.5 L406 109.5 M318.2 207.5 L335 207.5 M335.5 207.5 L335.5 202.5 Q335.5 198.5 339.5 198.5 L340 198.5 M335.5 207.5 L335.5 215.5 Q335.5 219.5 339.5 219.5 L340 219.5 M348 362.5 L364.3 362.5 M364.5 362.5 L364.5 284.5 Q364.5 280.5 368.5 280.5 L369.3 280.5 M364.5 362.5 L364.5 305.5 Q364.5 301.5 368.5 301.5 L369.3 301.5 M364.5 362.5 L364.5 391.5 Q364.5 395.5 368.5 395.5 L369.3 395.5 M519.5 395.5 L524 395.5"/>
<path d="M524.5 395.5 L524.5 359.5 Q524.5 355.5 528.5 355.5 L610.5 355.5 M610.5 355.5 L610.5 336.5 Q610.5 332.5 614.5 332.5 L709 332.5 M610 355.5 L697 355.5 M610.5 355.5 L610.5 374.5 Q610.5 378.5 614.5 378.5 L697 378.5 M524.5 395.5 L524.5 426.5 Q524.5 430.5 528.5 430.5 L614 430.5 M614.5 430.5 L614.5 411.5 Q614.5 407.5 618.5 407.5 L676 407.5 M614 430.5 L672.5 430.5 M614.5 430.5 L614.5 449.5 Q614.5 453.5 618.5 453.5 L720 453.5 M271.4 847.5 L289 847.5 M289.5 847.5 L289.5 549.5 Q289.5 545.5 293.5 545.5 L294 545.5 M334 545.5 L338.5 545.5 M338.5 545.5 L338.5 501.5 Q338.5 497.5 342.5 497.5 L542.5 497.5"/>
<path d="M338.5 545.5 L338.5 524.5 Q338.5 520.5 342.5 520.5 L509 520.5 M338.5 545.5 L338.5 551.5 Q338.5 555.5 342.5 555.5 L540 555.5 M540.5 555.5 L540.5 548.5 Q540.5 544.5 544.5 544.5 L675 544.5 M540.5 555.5 L540.5 563.5 Q540.5 567.5 544.5 567.5 L711 567.5 M338.5 545.5 L338.5 586.5 Q338.5 590.5 342.5 590.5 L720 590.5 M289.5 847.5 L289.5 808.5 Q289.5 804.5 293.5 804.5 L294 804.5 M358.5 804.5 L363 804.5 M363.5 804.5 L363.5 627.5 Q363.5 623.5 367.5 623.5 L400 623.5 M399.5 623.5 C403 623.5 401 618.5 404.5 618.5 L437.5 618.5 M363.5 804.5 L363.5 667.5 Q363.5 663.5 367.5 663.5 L395.75 663.5 M395.25 663.5 C398.75 663.5 396.75 658.5 400.25 658.5 L447.5 658.5 M363.5 804.5 L363.5 707.5 Q363.5 703.5 367.5 703.5 L401 703.5"/>
<path d="M400.5 703.5 C404 703.5 402 697.5 405.5 697.5 L438.75 697.5 M363.5 804.5 L363.5 746.5 Q363.5 742.5 367.5 742.5 L396 742.5 M395.5 742.5 C399 742.5 397 737.5 400.5 737.5 L447.5 737.5 M363.5 804.5 L363.5 786.5 Q363.5 782.5 367.5 782.5 L396.5 782.5 M396 782.5 C399.5 782.5 397.5 777.5 401 777.5 L447.5 777.5 M363.5 804.5 L363.5 818.5 Q363.5 822.5 367.5 822.5 L398.5 822.5 M398 822.5 C401.5 822.5 399.5 816.5 403 816.5 L445 816.5 M363.5 804.5 L363.5 857.5 Q363.5 861.5 367.5 861.5 L395 861.5 M394.5 861.5 C398 861.5 396 856.5 399.5 856.5 L446 856.5 M363.5 804.5 L363.5 897.5 Q363.5 901.5 367.5 901.5 L396.5 901.5 M396 901.5 C399.5 901.5 397.5 895.5 401 895.5 L449 895.5 M363.5 804.5 L363.5 936.5 Q363.5 940.5 367.5 940.5 L413.5 940.5"/>
<path d="M413 940.5 C416.5 940.5 414.5 934.5 418 934.5 L556 934.5 M363.5 804.5 L363.5 975.5 Q363.5 979.5 367.5 979.5 L431.5 979.5 M431 979.5 C434.5 979.5 432.5 974.5 436 974.5 L654 974.5 M289.5 847.5 L289.5 1112.5 Q289.5 1116.5 293.5 1116.5 L294 1116.5 M358.5 1116.5 L363 1116.5 M363.5 1116.5 L363.5 1075.5 Q363.5 1071.5 367.5 1071.5 L445 1071.5 M445.5 1071.5 L445.5 1053.5 Q445.5 1049.5 449.5 1049.5 L521 1049.5 M521.5 1049.5 L521.5 1017.5 Q521.5 1013.5 525.5 1013.5 L578.5 1013.5 M521.5 1049.5 L521.5 1040.5 Q521.5 1036.5 525.5 1036.5 L580 1036.5 M521.5 1049.5 L521.5 1056.5 Q521.5 1060.5 525.5 1060.5 L565 1060.5 M521.5 1049.5 L521.5 1078.5 Q521.5 1082.5 525.5 1082.5 L567 1082.5 M445.5 1071.5 L445.5 1112.5 Q445.5 1116.5 449.5 1116.5 L493.5 1116.5"/>
<path d="M493 1116.5 C496.5 1116.5 494.5 1110.5 498 1110.5 L639 1110.5 M363.5 1116.5 L363.5 1158.5 Q363.5 1162.5 367.5 1162.5 L432.5 1162.5 M432.5 1162.5 L432.5 1154.5 Q432.5 1150.5 436.5 1150.5 L466 1150.5 M432.5 1162.5 L432.5 1169.5 Q432.5 1173.5 436.5 1173.5 L504 1173.5 M363.5 1116.5 L363.5 1203.5 Q363.5 1207.5 367.5 1207.5 L420 1207.5 M419.5 1207.5 C423 1207.5 421 1201.5 424.5 1201.5 L654 1201.5 M352 2093.5 L368.5 2093.5 M368.5 2093.5 L368.5 1370.5 Q368.5 1366.5 372.5 1366.5 L373.5 1366.5 M413 1366.5 L417.5 1366.5 M417.5 1366.5 L417.5 1260.5 Q417.5 1256.5 421.5 1256.5 L466 1256.5 M417.5 1366.5 L417.5 1339.5 Q417.5 1335.5 421.5 1335.5 L481 1335.5 M481.5 1335.5 L481.5 1290.5 Q481.5 1286.5 485.5 1286.5 L531 1286.5"/>
<path d="M530.5 1286.5 C534 1286.5 532 1280.5 535.5 1280.5 L551.5 1280.5 M481.5 1335.5 L481.5 1330.5 Q481.5 1326.5 485.5 1326.5 L556 1326.5 M555.5 1326.5 C559 1326.5 557 1320.5 560.5 1320.5 L591.5 1320.5 M481.5 1335.5 L481.5 1367.5 Q481.5 1371.5 485.5 1371.5 L557.5 1371.5 M557.5 1371.5 L557.5 1364.5 Q557.5 1360.5 561.5 1360.5 L650 1360.5 M557.5 1371.5 L557.5 1378.5 Q557.5 1382.5 561.5 1382.5 L692.5 1382.5 M417.5 1366.5 L417.5 1441.5 Q417.5 1445.5 421.5 1445.5 L493.5 1445.5 M493.5 1445.5 L493.5 1420.5 Q493.5 1416.5 497.5 1416.5 L543.5 1416.5 M543 1416.5 C546.5 1416.5 544.5 1410.5 548 1410.5 L570 1410.5 M493.5 1445.5 L493.5 1458.5 Q493.5 1462.5 497.5 1462.5 L568.5 1462.5 M568.5 1462.5 L568.5 1455.5 Q568.5 1451.5 572.5 1451.5 L605 1451.5 M568.5 1462.5 L568.5 1470.5 Q568.5 1474.5 572.5 1474.5 L605 1474.5"/>
<path d="M368.5 2093.5 L368.5 1575.5 Q368.5 1571.5 372.5 1571.5 L373.5 1571.5 M425.5 1571.5 L430 1571.5 M430.5 1571.5 L430.5 1506.5 Q430.5 1502.5 434.5 1502.5 L565 1502.5 M430.5 1571.5 L430.5 1541.5 Q430.5 1537.5 434.5 1537.5 L517.5 1537.5 M517.5 1537.5 L517.5 1529.5 Q517.5 1525.5 521.5 1525.5 L680 1525.5 M517.5 1537.5 L517.5 1544.5 Q517.5 1548.5 521.5 1548.5 L650 1548.5 M430.5 1571.5 L430.5 1578.5 Q430.5 1582.5 434.5 1582.5 L505 1582.5 M504.5 1582.5 C508 1582.5 506 1577.5 509.5 1577.5 L570 1577.5 M430.5 1571.5 L430.5 1624.5 Q430.5 1628.5 434.5 1628.5 L481 1628.5 M481.5 1628.5 L481.5 1621.5 Q481.5 1617.5 485.5 1617.5 L567.5 1617.5 M481.5 1628.5 L481.5 1635.5 Q481.5 1639.5 485.5 1639.5 L615 1639.5 M368.5 2093.5 L368.5 1816.5 Q368.5 1812.5 372.5 1812.5 L373.5 1812.5"/>
<path d="M438 1812.5 L442.5 1812.5 M442.5 1812.5 L442.5 1678.5 Q442.5 1674.5 446.5 1674.5 L505 1674.5 M504.5 1674.5 C508 1674.5 506 1668.5 509.5 1668.5 L640 1668.5 M442.5 1812.5 L442.5 1717.5 Q442.5 1713.5 446.5 1713.5 L505 1713.5 M504.5 1713.5 C508 1713.5 506 1707.5 509.5 1707.5 L642.5 1707.5 M442.5 1812.5 L442.5 1847.5 Q442.5 1851.5 446.5 1851.5 L518.5 1851.5 M518.5 1851.5 L518.5 1763.5 Q518.5 1759.5 522.5 1759.5 L582.5 1759.5 M582.5 1759.5 L582.5 1752.5 Q582.5 1748.5 586.5 1748.5 L632.5 1748.5 M582.5 1759.5 L582.5 1766.5 Q582.5 1770.5 586.5 1770.5 L757.5 1770.5 M518.5 1851.5 L518.5 1815.5 Q518.5 1811.5 522.5 1811.5 L582.5 1811.5 M582.5 1811.5 L582.5 1804.5 Q582.5 1800.5 586.5 1800.5 L640 1800.5 M582.5 1811.5 L582.5 1818.5 Q582.5 1822.5 586.5 1822.5 L763.5 1822.5"/>
<path d="M518.5 1851.5 L518.5 1852.5 Q518.5 1856.5 522.5 1856.5 L568.5 1856.5 M568 1856.5 C571.5 1856.5 569.5 1850.5 573 1850.5 L696 1850.5 M518.5 1851.5 L518.5 1919.5 Q518.5 1923.5 522.5 1923.5 L593.5 1923.5 M593 1923.5 C596.5 1923.5 594.5 1918.5 598 1918.5 L670 1918.5 M670.5 1918.5 L670.5 1899.5 Q670.5 1895.5 674.5 1895.5 L745 1895.5 M744.5 1895.5 C748 1895.5 746 1890.5 749.5 1890.5 L784 1890.5 M670.5 1918.5 L670.5 1930.5 Q670.5 1934.5 674.5 1934.5 L745 1934.5 M744.5 1934.5 C748 1934.5 746 1929.5 749.5 1929.5 L780 1929.5 M368.5 2093.5 L368.5 2068.5 Q368.5 2064.5 372.5 2064.5 L373.5 2064.5 M418 2064.5 L422.5 2064.5 M422.5 2064.5 L422.5 1995.5 Q422.5 1991.5 426.5 1991.5 L472.5 1991.5 M472.5 1991.5 L472.5 1983.5 Q472.5 1979.5 476.5 1979.5 L570 1979.5"/>
<path d="M472.5 1991.5 L472.5 1998.5 Q472.5 2002.5 476.5 2002.5 L521.5 2002.5 M422.5 2064.5 L422.5 2046.5 Q422.5 2042.5 426.5 2042.5 L472.5 2042.5 M472.5 2042.5 L472.5 2034.5 Q472.5 2030.5 476.5 2030.5 L674 2030.5 M472.5 2042.5 L472.5 2049.5 Q472.5 2053.5 476.5 2053.5 L684 2053.5 M422.5 2064.5 L422.5 2112.5 Q422.5 2116.5 426.5 2116.5 L471.5 2116.5 M471 2116.5 C474.5 2116.5 472.5 2110.5 476 2110.5 L542.5 2110.5 M542.5 2110.5 L542.5 2092.5 Q542.5 2088.5 546.5 2088.5 L655 2088.5 M654.5 2088.5 C658 2088.5 656 2082.5 659.5 2082.5 L694 2082.5 M542.5 2110.5 L542.5 2123.5 Q542.5 2127.5 546.5 2127.5 L655 2127.5 M654.5 2127.5 C658 2127.5 656 2121.5 659.5 2121.5 L691 2121.5 M368.5 2093.5 L368.5 2558.5 Q368.5 2562.5 372.5 2562.5 L373.5 2562.5 M438 2562.5 L442.5 2562.5"/>
<path d="M442.5 2562.5 L442.5 2381.5 Q442.5 2377.5 446.5 2377.5 L526 2377.5 M526.5 2377.5 L526.5 2204.5 Q526.5 2200.5 530.5 2200.5 L601 2200.5 M601.5 2200.5 L601.5 2182.5 Q601.5 2178.5 605.5 2178.5 L649 2178.5 M648.5 2178.5 C652 2178.5 650 2172.5 653.5 2172.5 L670 2172.5 M601.5 2200.5 L601.5 2213.5 Q601.5 2217.5 605.5 2217.5 L652.5 2217.5 M652 2217.5 C655.5 2217.5 653.5 2212.5 657 2212.5 L674 2212.5 M526.5 2377.5 L526.5 2261.5 Q526.5 2257.5 530.5 2257.5 L573.5 2257.5 M573 2257.5 C576.5 2257.5 574.5 2251.5 578 2251.5 L593.5 2251.5 M526.5 2377.5 L526.5 2300.5 Q526.5 2296.5 530.5 2296.5 L611 2296.5 M610.5 2296.5 C614 2296.5 612 2290.5 615.5 2290.5 L651.5 2290.5 M526.5 2377.5 L526.5 2425.5 Q526.5 2429.5 530.5 2429.5 L588.5 2429.5 M588.5 2429.5 L588.5 2345.5 Q588.5 2341.5 592.5 2341.5 L675.5 2341.5"/>
<path d="M675.5 2341.5 L675.5 2333.5 Q675.5 2329.5 679.5 2329.5 L736 2329.5 M675.5 2341.5 L675.5 2348.5 Q675.5 2352.5 679.5 2352.5 L756 2352.5 M588.5 2429.5 L588.5 2397.5 Q588.5 2393.5 592.5 2393.5 L713 2393.5 M713.5 2393.5 L713.5 2385.5 Q713.5 2381.5 717.5 2381.5 L773.5 2381.5 M713.5 2393.5 L713.5 2400.5 Q713.5 2404.5 717.5 2404.5 L780 2404.5 M588.5 2429.5 L588.5 2434.5 Q588.5 2438.5 592.5 2438.5 L737.5 2438.5 M737 2438.5 C740.5 2438.5 738.5 2433.5 742 2433.5 L872.5 2433.5 M588.5 2429.5 L588.5 2474.5 Q588.5 2478.5 592.5 2478.5 L664 2478.5 M663.5 2478.5 C667 2478.5 665 2472.5 668.5 2472.5 L682.5 2472.5 M588.5 2429.5 L588.5 2513.5 Q588.5 2517.5 592.5 2517.5 L700 2517.5 M699.5 2517.5 C703 2517.5 701 2511.5 704.5 2511.5 L739 2511.5 M526.5 2377.5 L526.5 2559.5 Q526.5 2563.5 530.5 2563.5 L589 2563.5"/>
<path d="M589.5 2563.5 L589.5 2556.5 Q589.5 2552.5 593.5 2552.5 L654 2552.5 M589.5 2563.5 L589.5 2570.5 Q589.5 2574.5 593.5 2574.5 L656.5 2574.5 M442.5 2562.5 L442.5 2696.5 Q442.5 2700.5 446.5 2700.5 L525 2700.5 M525.5 2700.5 L525.5 2664.5 Q525.5 2660.5 529.5 2660.5 L576 2660.5 M576.5 2660.5 L576.5 2606.5 Q576.5 2602.5 580.5 2602.5 L661 2602.5 M576 2660.5 L751.5 2660.5 M751.5 2660.5 L751.5 2635.5 Q751.5 2631.5 755.5 2631.5 L887.5 2631.5 M887 2631.5 C890.5 2631.5 888.5 2626.5 892 2626.5 L927.5 2626.5 M751.5 2660.5 L751.5 2674.5 Q751.5 2678.5 755.5 2678.5 L826.5 2678.5 M826.5 2678.5 L826.5 2670.5 Q826.5 2666.5 830.5 2666.5 L936 2666.5 M826.5 2678.5 L826.5 2685.5 Q826.5 2689.5 830.5 2689.5 L948.5 2689.5 M576.5 2660.5 L576.5 2708.5 Q576.5 2712.5 580.5 2712.5 L698.5 2712.5"/>
<path d="M525.5 2700.5 L525.5 2763.5 Q525.5 2767.5 529.5 2767.5 L576 2767.5 M576.5 2767.5 L576.5 2750.5 Q576.5 2746.5 580.5 2746.5 L632.5 2746.5 M632 2746.5 C635.5 2746.5 633.5 2741.5 637 2741.5 L731.5 2741.5 M576.5 2767.5 L576.5 2782.5 Q576.5 2786.5 580.5 2786.5 L632.5 2786.5 M632 2786.5 C635.5 2786.5 633.5 2780.5 637 2780.5 L756 2780.5 M442.5 2562.5 L442.5 2879.5 Q442.5 2883.5 446.5 2883.5 L538.5 2883.5 M538.5 2883.5 L538.5 2823.5 Q538.5 2819.5 542.5 2819.5 L673.5 2819.5 M538.5 2883.5 L538.5 2846.5 Q538.5 2842.5 542.5 2842.5 L685 2842.5 M538.5 2883.5 L538.5 2869.5 Q538.5 2865.5 542.5 2865.5 L673.5 2865.5 M538.5 2883.5 L538.5 2884.5 Q538.5 2888.5 542.5 2888.5 L606.5 2888.5 M538.5 2883.5 L538.5 2907.5 Q538.5 2911.5 542.5 2911.5 L656 2911.5 M538.5 2883.5 L538.5 2936.5 Q538.5 2940.5 542.5 2940.5 L707.5 2940.5"/>
<path d="M707 2940.5 C710.5 2940.5 708.5 2934.5 712 2934.5 L783.5 2934.5 M335 3147.5 L352 3147.5 M352.5 3147.5 L352.5 3000.5 Q352.5 2996.5 356.5 2996.5 L357 2996.5 M396 2996.5 C400.75 2996.5 398.75 2989.5 403.5 2989.5 L536 2989.5 M352.5 3147.5 L352.5 3042.5 Q352.5 3038.5 356.5 3038.5 L357 3038.5 M396 3038.5 C400.75 3038.5 398.75 3032.5 403.5 3032.5 L534 3032.5 M352.5 3147.5 L352.5 3196.5 Q352.5 3200.5 356.5 3200.5 L357 3200.5 M434 3200.5 L438.5 3200.5 M438.5 3200.5 L438.5 3083.5 Q438.5 3079.5 442.5 3079.5 L532.5 3079.5 M532 3079.5 C535.5 3079.5 533.5 3074.5 537 3074.5 L705.5 3074.5 M438.5 3200.5 L438.5 3123.5 Q438.5 3119.5 442.5 3119.5 L656 3119.5 M655.5 3119.5 C659 3119.5 657 3113.5 660.5 3113.5 L891 3113.5"/>
<path d="M438.5 3200.5 L438.5 3162.5 Q438.5 3158.5 442.5 3158.5 L590 3158.5 M589.5 3158.5 C593 3158.5 591 3152.5 594.5 3152.5 L825.5 3152.5 M438.5 3200.5 L438.5 3200.5 Q438.5 3198.5 440.5 3198.5 L689 3198.5 M688.5 3198.5 C692 3198.5 690 3192.5 693.5 3192.5 L908.5 3192.5 M438.5 3200.5 L438.5 3233.5 Q438.5 3237.5 442.5 3237.5 L556.5 3237.5 M556 3237.5 C559.5 3237.5 557.5 3231.5 561 3231.5 L877 3231.5 M438.5 3200.5 L438.5 3273.5 Q438.5 3277.5 442.5 3277.5 L518.5 3277.5 M518 3277.5 C521.5 3277.5 519.5 3271.5 523 3271.5 L655 3271.5 M438.5 3200.5 L438.5 3312.5 Q438.5 3316.5 442.5 3316.5 L516.5 3316.5 M516 3316.5 C519.5 3316.5 517.5 3310.5 521 3310.5 L817 3310.5 M769.5 190.5 L769.5 171.5 Q769.5 167.5 773.5 167.5 L966.5 167.5 M769 190.5 L1005 190.5"/>
<path d="M769.5 190.5 L769.5 208.5 Q769.5 212.5 773.5 212.5 L980 212.5"/>
</g>
<path d="M752.5 190.5 L769 190.5" stroke="#e3c34e" stroke-width="1" fill="none"/>
<g fill="none" stroke="#d9566a" stroke-width="2" stroke-dasharray="5.5 3"><path d="M632 133 C655 139 675 152 672.5 172"/><path d="M640 209 C615 224 580 226 548 225"/></g>
<path d="M539.3 224.2 L549.6 218.8 L549.6 229.8 Z" fill="#d9566a"/>
</svg>
<div id="root"><div id="title">JavaScript数据类型</div><svg width="204" height="127" viewBox="0 0 204 127" style="left:0;top:0"><g fill="none" stroke="#fff" stroke-linecap="round"><path d="M40 97.5 C52 100 66 99 73 90 C78 84 86 86 98 92 C106 96 118 95 128 89" stroke-width="1" opacity=".85"/><path d="M40.5 96.5 L45.5 98.5" stroke-width="3.2"/></g></svg><div class="w q" style="left:123.5px;top:40.5px;font-size:8px;line-height:10px;opacity:.85">前端攻城师</div><div class="w" style="left:60px;top:35px;font:italic 54px/60px 'Liberation Serif',serif;opacity:.95">J</div><div class="w" style="left:81px;top:58px;font:italic 31px/36px 'Liberation Serif',serif;letter-spacing:.5px;opacity:.95">uly</div><div class="w" style="left:136px;top:74px;font:italic bold 13px/16px 'Liberation Serif',serif;letter-spacing:.5px">ing</div><div class="w s" style="left:63.5px;top:104.5px;font-size:9.5px;line-height:12px;opacity:.95">Web &nbsp;}</div><div class="w q" style="left:106px;top:105.5px;font-size:7px;line-height:10px;opacity:.7">Design &amp; Optimize</div></div>
<div class="l1" style="left:282px;top:69.4px;width:102.3px;height:37.2px"><span id="L0">undefined</span></div>
<div class="l1" style="left:259.4px;top:189.3px;width:58.8px;height:37.1px"><span id="L1">null</span></div>
<div class="l1" style="left:259.5px;top:344.3px;width:88.5px;height:37.3px"><span id="L2">boolean</span></div>
<div class="l1" style="left:199.7px;top:828.7px;width:71.7px;height:37px"><span id="L3">string</span></div>
<div class="l1" style="left:265.3px;top:2074.6px;width:86.7px;height:37.2px"><span id="L4">number</span></div>
<div class="l1" style="left:259.5px;top:3129.3px;width:75.5px;height:37px"><span id="L5">object</span></div>
<div id="yel"><span>undefined<i>与</i>null<i>的关系</i></span></div>
<div id="tx">
<div class="t b" id="t0" style="left:408px;top:51.63px">使用<span style="letter-spacing:0.5px">var</span>声明变量但未初始化</div>
<div class="t b" id="t1" style="left:408px;top:73.13px">区分空对象指针与尚未定义的变量</div>
<div class="t b" id="t2" style="left:408px;top:94.53px">对未初始化的变量及未声明的变量使用</div>
<div class="t b" id="t3" style="left:408px;top:109.53px"><span style="letter-spacing:0.49px">typeof</span>运算符均会返回<span style="letter-spacing:0.49px">undefined</span></div>
<div class="t b" id="t4" style="left:342px;top:190.83px">逻辑上<span style="letter-spacing:0.2px">null</span>表示一个空对象的指针</div>
<div class="t b" id="t5" style="left:342px;top:211.83px">使用<span style="letter-spacing:0.42px">typeof</span>检测时会返回<span style="letter-spacing:0.42px">object</span></div>
<div class="t b" id="t6" style="left:371.3px;top:272.63px"><span style="letter-spacing:0.35px">true</span>为真，<span style="letter-spacing:0.35px">false</span>为假</div>
<div class="t b" id="t7" style="left:371.3px;top:294.13px"><span style="letter-spacing:0.68px">true</span>不一定<span style="letter-spacing:0.68px">=1</span>，<span style="letter-spacing:0.68px">false</span>不一定<span style="letter-spacing:0.68px">=0</span></div>
<div class="t b" id="t8" style="left:371.3px;top:388.13px">使用<span style="letter-spacing:0.32px">Boolean()</span>进行转换</div>
<div class="t u" id="t9" style="left:531px;top:339.53px">转换为<span style="letter-spacing:0.69px">true</span></div>
<div class="t u" id="t10" style="left:617.5px;top:316.53px">任何非空字符串</div>
<div class="t u" id="t11" style="left:617.5px;top:339.53px">任何非零数值</div>
<div class="t u" id="t12" style="left:617.5px;top:362.33px">任何非空对象</div>
<div class="t u" id="t13" style="left:531px;top:414.73px">转换为<span style="letter-spacing:0.29px">false</span></div>
<div class="t u" id="t14" style="left:621px;top:391.23px">空字符串</div>
<div class="t u" id="t15" style="left:621px;top:414.73px"><span style="letter-spacing:0.66px">0</span>及<span style="letter-spacing:0.66px">NaN</span></div>
<div class="t u" id="t16" style="left:621px;top:437.23px"><span style="letter-spacing:0.64px">null</span>及<span style="letter-spacing:0.64px">undefined</span></div>
<div class="t b" id="t17" style="left:296px;top:537.63px">特性</div>
<div class="t u" id="t18" style="left:345.5px;top:481.23px">由<span style="letter-spacing:0.28px">0</span>个或多个<span style="letter-spacing:0.28px">16</span>位<span style="letter-spacing:0.28px">Unicode</span>字符组成</div>
<div class="t u" id="t19" style="left:345.5px;top:504.73px">单引号与双引号不能交叉使用</div>
<div class="t u" id="t20" style="left:345.5px;top:539.73px">使用<span style="letter-spacing:0.48px">.length</span>属性访问字符串长度</div>
<div class="t u" id="t21" style="left:547px;top:528.23px">转义序列表示一个字符</div>
<div class="t u" id="t22" style="left:547px;top:551.23px">无法精确返回双字节字符长度</div>
<div class="t u" id="t23" style="left:345.5px;top:574.73px">字符串一旦被创建，其值将不能改变，若要改变必须销毁原有字符串</div>
<div class="t b" id="t24" style="left:296px;top:797.13px">转义序列</div>
<div class="t u" id="t25" style="left:370px;top:607.78px"><span style="letter-spacing:0.5px">\n</span></div>
<div class="t u" id="t26" style="left:409px;top:602.73px">换行</div>
<div class="t u" id="t27" style="left:370px;top:647.93px"><span style="letter-spacing:0.5px">\t</span></div>
<div class="t u" id="t28" style="left:404.75px;top:642.23px">制表符</div>
<div class="t u" id="t29" style="left:370px;top:687.33px"><span style="letter-spacing:0.5px">\b</span></div>
<div class="t u" id="t30" style="left:410px;top:681.73px">空格</div>
<div class="t u" id="t31" style="left:370px;top:726.73px"><span style="letter-spacing:0.5px">\r</span></div>
<div class="t u" id="t32" style="left:405px;top:721.23px">回车符</div>
<div class="t u" id="t33" style="left:370px;top:766.73px"><span style="letter-spacing:0.5px">\f</span></div>
<div class="t u" id="t34" style="left:405.5px;top:761.23px">分页符</div>
<div class="t u" id="t35" style="left:370px;top:806.73px"><span style="letter-spacing:0.5px">\\</span></div>
<div class="t u" id="t36" style="left:407.5px;top:800.73px">斜杠<span style="letter-spacing:0.5px"> \</span></div>
<div class="t u" id="t37" style="left:370px;top:845.73px"><span style="letter-spacing:0.5px">\&#x27;</span></div>
<div class="t u" id="t38" style="left:404px;top:840.23px">单引号</div>
<div class="t u" id="t39" style="left:370px;top:885.23px"><span style="letter-spacing:0.5px">\&quot;</span></div>
<div class="t u" id="t40" style="left:405.5px;top:879.73px">双引号</div>
<div class="t u" id="t41" style="left:370px;top:924.23px"><span style="letter-spacing:0.42px">\xnn</span></div>
<div class="t u" id="t42" style="left:422.5px;top:918.73px">十六进制数，<span style="letter-spacing:0.35px">n</span>代表<span style="letter-spacing:0.35px">0~F</span></div>
<div class="t u" id="t43" style="left:370px;top:963.73px"><span style="letter-spacing:0.88px">\unnnn</span></div>
<div class="t u" id="t44" style="left:440.5px;top:958.23px">以十六进制代码表示一个<span style="letter-spacing:0.42px">Unicode</span>字符</div>
<div class="t b" id="t45" style="left:296px;top:1109.13px">类型转换</div>
<div class="t u" id="t46" style="left:370px;top:1055.73px"><span style="letter-spacing:0.58px">toString()</span></div>
<div class="t u" id="t47" style="left:452px;top:1033.23px">使用类型</div>
<div class="t u" id="t48" style="left:528px;top:997.73px"><span style="letter-spacing:0.61px">number</span></div>
<div class="t u" id="t49" style="left:528px;top:1020.73px"><span style="letter-spacing:0.44px">boolean</span></div>
<div class="t u" id="t50" style="left:528px;top:1044.23px"><span style="letter-spacing:0.31px">string</span></div>
<div class="t u" id="t51" style="left:528px;top:1066.73px"><span style="letter-spacing:0.2px">object</span></div>
<div class="t u" id="t52" style="left:452px;top:1100.73px">参数</div>
<div class="t u" id="t53" style="left:502.5px;top:1094.73px"><span style="letter-spacing:0.56px">number</span>类型的数值基数</div>
<div class="t u" id="t54" style="left:370px;top:1146.73px"><span style="letter-spacing:0.45px">String()</span></div>
<div class="t u" id="t55" style="left:439.5px;top:1134.73px"><span style="letter-spacing:0.57px">null</span></div>
<div class="t u" id="t56" style="left:439.5px;top:1157.73px"><span style="letter-spacing:0.59px">undefined</span></div>
<div class="t u" id="t57" style="left:370px;top:1191.73px"><span style="letter-spacing:0.2px">eval()</span></div>
<div class="t u" id="t58" style="left:429px;top:1185.73px">计算字符串表达式的值并以数值形式返回</div>
<div class="t b" id="t59" style="left:375.5px;top:1359.13px">进制</div>
<div class="t u" id="t60" style="left:424.5px;top:1240.73px">十进制</div>
<div class="t u" id="t61" style="left:424.5px;top:1319.23px">八进制</div>
<div class="t u" id="t62" style="left:488px;top:1270.73px">前导</div>
<div class="t u" id="t63" style="left:540px;top:1264.73px"><span style="letter-spacing:0.5px">0</span></div>
<div class="t u" id="t64" style="left:488px;top:1310.23px">有效序列</div>
<div class="t u" id="t65" style="left:565px;top:1304.73px"><span style="letter-spacing:0.5px">0~7</span></div>
<div class="t u" id="t66" style="left:488px;top:1355.23px">超出范围</div>
<div class="t u" id="t67" style="left:564.5px;top:1344.23px">前导位<span style="letter-spacing:0.5px">0</span>被忽略</div>
<div class="t u" id="t68" style="left:564.5px;top:1366.73px">后续数值以十进制计数</div>
<div class="t u" id="t69" style="left:424.5px;top:1429.73px">十六进制</div>
<div class="t u" id="t70" style="left:500.5px;top:1400.73px">前导</div>
<div class="t u" id="t71" style="left:552.5px;top:1394.73px"><span style="letter-spacing:0.5px">0x</span></div>
<div class="t u" id="t72" style="left:500.5px;top:1446.73px">有效序列</div>
<div class="t u" id="t73" style="left:575.5px;top:1435.23px"><span style="letter-spacing:0.5px">0~9</span></div>
<div class="t u" id="t74" style="left:575.5px;top:1458.23px"><span style="letter-spacing:0.5px">A~F</span></div>
<div class="t b" id="t75" style="left:375.5px;top:1563.63px">浮点数</div>
<div class="t u" id="t76" style="left:437px;top:1486.73px">小数点后至少一位数字</div>
<div class="t u" id="t77" style="left:437px;top:1521.23px">科学计数法</div>
<div class="t u" id="t78" style="left:524.5px;top:1509.73px">小数点后带有<span style="letter-spacing:0.5px">6</span>个<span style="letter-spacing:0.5px">0</span>的浮点数</div>
<div class="t u" id="t79" style="left:524.5px;top:1532.73px">以<span style="letter-spacing:0.9px">e</span>为底<span style="letter-spacing:0.9px">*10</span>的<span style="letter-spacing:0.9px">±N</span>次幂</div>
<div class="t u" id="t80" style="left:437px;top:1566.73px">最高精度</div>
<div class="t u" id="t81" style="left:514px;top:1561.23px"><span style="letter-spacing:0.5px">17</span>位小数</div>
<div class="t u" id="t82" style="left:437px;top:1612.73px">缺陷</div>
<div class="t u" id="t83" style="left:488px;top:1601.23px">存在舍入误差</div>
<div class="t u" id="t84" style="left:488px;top:1623.73px">无法测试特定浮点数值</div>
<div class="t b" id="t85" style="left:375.5px;top:1805.13px">数值范围</div>
<div class="t u" id="t86" style="left:449.5px;top:1658.23px">最小值</div>
<div class="t u" id="t87" style="left:514px;top:1652.23px"><span style="letter-spacing:0.34px">Number.MIN_VALUE</span></div>
<div class="t u" id="t88" style="left:449.5px;top:1697.73px">最大值</div>
<div class="t u" id="t89" style="left:514px;top:1691.73px"><span style="letter-spacing:0.24px">Number.MAX_VALUE</span></div>
<div class="t u" id="t90" style="left:449.5px;top:1835.73px">超出范围</div>
<div class="t u" id="t91" style="left:525.5px;top:1743.23px">正无穷</div>
<div class="t u" id="t92" style="left:589.5px;top:1732.23px"><span style="letter-spacing:0.29px">Infinity</span></div>
<div class="t u" id="t93" style="left:589.5px;top:1754.73px"><span style="letter-spacing:0.2px">Number.POSITIVE_INFINITY</span></div>
<div class="t u" id="t94" style="left:525.5px;top:1795.73px">负无穷</div>
<div class="t u" id="t95" style="left:589.5px;top:1784.23px"><span style="letter-spacing:0.64px">-Infinity</span></div>
<div class="t u" id="t96" style="left:589.5px;top:1806.73px"><span style="letter-spacing:0.2px">Number.NEGATIVE_INFINITY</span></div>
<div class="t u" id="t97" style="left:525.5px;top:1840.73px">缺陷</div>
<div class="t u" id="t98" style="left:577.5px;top:1834.73px">无法参与下一次计算</div>
<div class="t u" id="t99" style="left:525.5px;top:1907.23px">检测方法</div>
<div class="t u" id="t100" style="left:602.5px;top:1902.23px"><span style="letter-spacing:0.2px">isFinite()</span></div>
<div class="t u" id="t101" style="left:677px;top:1879.73px">超出范围</div>
<div class="t u" id="t102" style="left:754px;top:1874.23px"><span style="letter-spacing:0.2px">false</span></div>
<div class="t u" id="t103" style="left:677px;top:1918.73px">合法范围</div>
<div class="t u" id="t104" style="left:754px;top:1913.23px"><span style="letter-spacing:0.2px">true</span></div>
<div class="t b" id="t105" style="left:375.5px;top:2056.63px"><span style="letter-spacing:0.5px">NaN</span></div>
<div class="t u" id="t106" style="left:429.5px;top:1975.73px">含义</div>
<div class="t u" id="t107" style="left:479.5px;top:1963.73px"><span style="letter-spacing:0.73px">Not a Number</span></div>
<div class="t u" id="t108" style="left:479.5px;top:1986.73px">非数值</div>
<div class="t u" id="t109" style="left:429.5px;top:2026.73px">特性</div>
<div class="t u" id="t110" style="left:479.5px;top:2014.73px">任何涉及<span style="letter-spacing:0.75px">NaN</span>的操作都将返回<span style="letter-spacing:0.75px">NaN</span></div>
<div class="t u" id="t111" style="left:479.5px;top:2037.73px"><span style="letter-spacing:0.5px">NaN</span>与任何数值都不相等包括其自身</div>
<div class="t u" id="t112" style="left:429.5px;top:2100.23px">检测</div>
<div class="t u" id="t113" style="left:480.5px;top:2094.73px"><span style="letter-spacing:0.25px">isNaN()</span></div>
<div class="t u" id="t114" style="left:549.5px;top:2072.23px">可以转换为数值</div>
<div class="t u" id="t115" style="left:664px;top:2066.23px"><span style="letter-spacing:0.2px">false</span></div>
<div class="t u" id="t116" style="left:549.5px;top:2111.23px">不能转换为数值</div>
<div class="t u" id="t117" style="left:664px;top:2105.73px"><span style="letter-spacing:0.2px">true</span></div>
<div class="t b" id="t118" style="left:375.5px;top:2554.63px">数值转换</div>
<div class="t u" id="t119" style="left:449.5px;top:2361.23px"><span style="letter-spacing:0.74px">Number()</span></div>
<div class="t u" id="t120" style="left:533px;top:2184.73px"><span style="letter-spacing:0.61px">Boolean</span></div>
<div class="t u" id="t121" style="left:608px;top:2162.23px"><span style="letter-spacing:0.31px">true</span></div>
<div class="t u" id="t122" style="left:658px;top:2156.73px"><span style="letter-spacing:0.5px">1</span></div>
<div class="t u" id="t123" style="left:608px;top:2201.73px"><span style="letter-spacing:0.2px">false</span></div>
<div class="t u" id="t124" style="left:661.5px;top:2196.23px"><span style="letter-spacing:0.5px">0</span></div>
<div class="t u" id="t125" style="left:533px;top:2241.73px"><span style="letter-spacing:0.7px">null</span></div>
<div class="t u" id="t126" style="left:582.5px;top:2235.73px"><span style="letter-spacing:0.5px">0</span></div>
<div class="t u" id="t127" style="left:533px;top:2280.73px"><span style="letter-spacing:0.59px">undefined</span></div>
<div class="t u" id="t128" style="left:620px;top:2274.73px"><span style="letter-spacing:0.5px">NaN</span></div>
<div class="t u" id="t129" style="left:533px;top:2413.73px"><span style="letter-spacing:0.8px">String</span></div>
<div class="t u" id="t130" style="left:595.5px;top:2325.73px">只包含数字</div>
<div class="t u" id="t131" style="left:682.5px;top:2313.73px">十进制数</div>
<div class="t u" id="t132" style="left:682.5px;top:2336.73px">前导<span style="letter-spacing:0.5px">0</span>被忽略</div>
<div class="t u" id="t133" style="left:595.5px;top:2377.73px">包含有效浮点格式</div>
<div class="t u" id="t134" style="left:720px;top:2365.73px">浮点数值</div>
<div class="t u" id="t135" style="left:720px;top:2388.73px">忽略前导<span style="letter-spacing:0.5px">0</span></div>
<div class="t u" id="t136" style="left:595.5px;top:2422.73px">包含有效十六进制格式</div>
<div class="t u" id="t137" style="left:746.5px;top:2417.23px">相同大小的十进制整数</div>
<div class="t u" id="t138" style="left:595.5px;top:2462.23px">空字符串</div>
<div class="t u" id="t139" style="left:673px;top:2456.23px"><span style="letter-spacing:0.5px">0</span></div>
<div class="t u" id="t140" style="left:595.5px;top:2501.73px">其他格式字符串</div>
<div class="t u" id="t141" style="left:709px;top:2495.73px"><span style="letter-spacing:0.5px">NaN</span></div>
<div class="t u" id="t142" style="left:533px;top:2547.73px"><span style="letter-spacing:0.77px">object</span></div>
<div class="t u" id="t143" style="left:596px;top:2536.23px"><span style="letter-spacing:0.26px">valueOf()</span></div>
<div class="t u" id="t144" style="left:596px;top:2558.73px"><span style="letter-spacing:0.48px">toString()</span></div>
<div class="t u" id="t145" style="left:449.5px;top:2684.73px"><span style="letter-spacing:0.42px">parseInt()</span></div>
<div class="t u" id="t146" style="left:532px;top:2644.23px">特性</div>
<div class="t u" id="t147" style="left:583px;top:2586.73px">忽略前置空格</div>
<div class="t u" id="t148" style="left:583px;top:2644.23px">直接找到第一个非空格字符</div>
<div class="t u" id="t149" style="left:758.5px;top:2615.73px">不是数字字符或负号</div>
<div class="t u" id="t150" style="left:896.5px;top:2610.23px"><span style="letter-spacing:0.5px">NaN</span></div>
<div class="t u" id="t151" style="left:758.5px;top:2662.23px">数字字符</div>
<div class="t u" id="t152" style="left:833.5px;top:2650.23px">解析所有后续字符</div>
<div class="t u" id="t153" style="left:833.5px;top:2673.23px">遇到非数字字符结束</div>
<div class="t u" id="t154" style="left:583px;top:2696.23px">小数点不是有效数字</div>
<div class="t u" id="t155" style="left:532px;top:2751.23px">参数</div>
<div class="t u" id="t156" style="left:583px;top:2730.73px">参数<span style="letter-spacing:0.5px">1</span></div>
<div class="t u" id="t157" style="left:641.5px;top:2725.03px">要解析的字符串</div>
<div class="t u" id="t158" style="left:583px;top:2770.03px">参数<span style="letter-spacing:0.5px">2</span></div>
<div class="t u" id="t159" style="left:641.5px;top:2764.03px">转换时所使用的基数</div>
<div class="t u" id="t160" style="left:449.5px;top:2867.23px"><span style="letter-spacing:0.34px">parseFloat()</span></div>
<div class="t u" id="t161" style="left:545.5px;top:2803.23px">从第一个字符开始解析</div>
<div class="t u" id="t162" style="left:545.5px;top:2826.73px">遇到无效浮点格式后结束</div>
<div class="t u" id="t163" style="left:545.5px;top:2849.73px">只有第一个小数点有效</div>
<div class="t u" id="t164" style="left:545.5px;top:2872.73px">忽略前导<span style="letter-spacing:0.5px">0</span></div>
<div class="t u" id="t165" style="left:545.5px;top:2895.73px">十六进制数始终为<span style="letter-spacing:0.5px">0</span></div>
<div class="t u" id="t166" style="left:545.5px;top:2924.73px">没有小数点或小数点后全<span style="letter-spacing:0.5px">0</span></div>
<div class="t u" id="t167" style="left:716.5px;top:2918.73px">转换为整数</div>
<div class="t b" id="t168" style="left:359px;top:2989.13px">定义</div>
<div class="t u" id="t169" style="left:409px;top:2973.73px">一组数据或功能的集合</div>
<div class="t b" id="t170" style="left:359px;top:3030.63px">声明</div>
<div class="t u" id="t171" style="left:409px;top:3016.23px"><span style="letter-spacing:0.43px">var o = new Object()</span></div>
<div class="t b" id="t172" style="left:359px;top:3193.13px">属性与方法</div>
<div class="t u" id="t173" style="left:445.5px;top:3063.73px"><span style="letter-spacing:0.43px">Constructor</span></div>
<div class="t u" id="t174" style="left:541.5px;top:3058.23px">保存用于创建当前对象的函数</div>
<div class="t u" id="t175" style="left:445.5px;top:3103.23px"><span style="letter-spacing:0.49px">hasOwnProperty(propertyName)</span></div>
<div class="t u" id="t176" style="left:665px;top:3097.23px">检测给定属性在当前对象实例中是否存在</div>
<div class="t u" id="t177" style="left:445.5px;top:3142.73px"><span style="letter-spacing:0.49px">isPrototypeOf(object)</span></div>
<div class="t u" id="t178" style="left:599px;top:3136.73px">检测传入的对象是否是另一个对象的原型</div>
<div class="t u" id="t179" style="left:445.5px;top:3182.23px"><span style="letter-spacing:0.51px">propertyIsEnumerable(propertyName)</span></div>
<div class="t u" id="t180" style="left:698px;top:3176.23px">检测给定属性是否能用<span style="letter-spacing:0.8px">for-in</span>语句枚举</div>
<div class="t u" id="t181" style="left:445.5px;top:3221.73px"><span style="letter-spacing:0.34px">toLocaleString()</span></div>
<div class="t u" id="t182" style="left:565.5px;top:3215.73px">返回对象的字符串表示，该字符串与执行环境的地区对应</div>
<div class="t u" id="t183" style="left:445.5px;top:3261.23px"><span style="letter-spacing:0.38px">toString()</span></div>
<div class="t u" id="t184" style="left:527.5px;top:3255.23px">返回对象的字符串表示</div>
<div class="t u" id="t185" style="left:445.5px;top:3300.73px"><span style="letter-spacing:0.2px">valueOf()</span></div>
<div class="t u" id="t186" style="left:525.5px;top:3294.73px">返回对象的字符串、数值或布尔值表示；通常与<span style="letter-spacing:0.51px">toString()</span>的值相同</div>
<div class="t k" id="t187" style="left:776px;top:137.2px"><span style="letter-spacing:0.2px">undefined</span>派生于<span style="letter-spacing:0.2px">null</span>因此在使</div>
<div class="t k" id="t188" style="left:776px;top:151.7px">用<span style="letter-spacing:0.9px">“==”</span>进行比较时会返回<span style="letter-spacing:0.9px">true</span></div>
<div class="t k" id="t189" style="left:776px;top:174px">没有必要将变量值显示声明<span style="letter-spacing:0.2px">undefined</span></div>
<div class="t k" id="t190" style="left:776px;top:195.9px">声明空对象时应将其值赋值为<span style="letter-spacing:0.28px">null</span></div>
</div>
<div id="frame"></div>
</body></html>
